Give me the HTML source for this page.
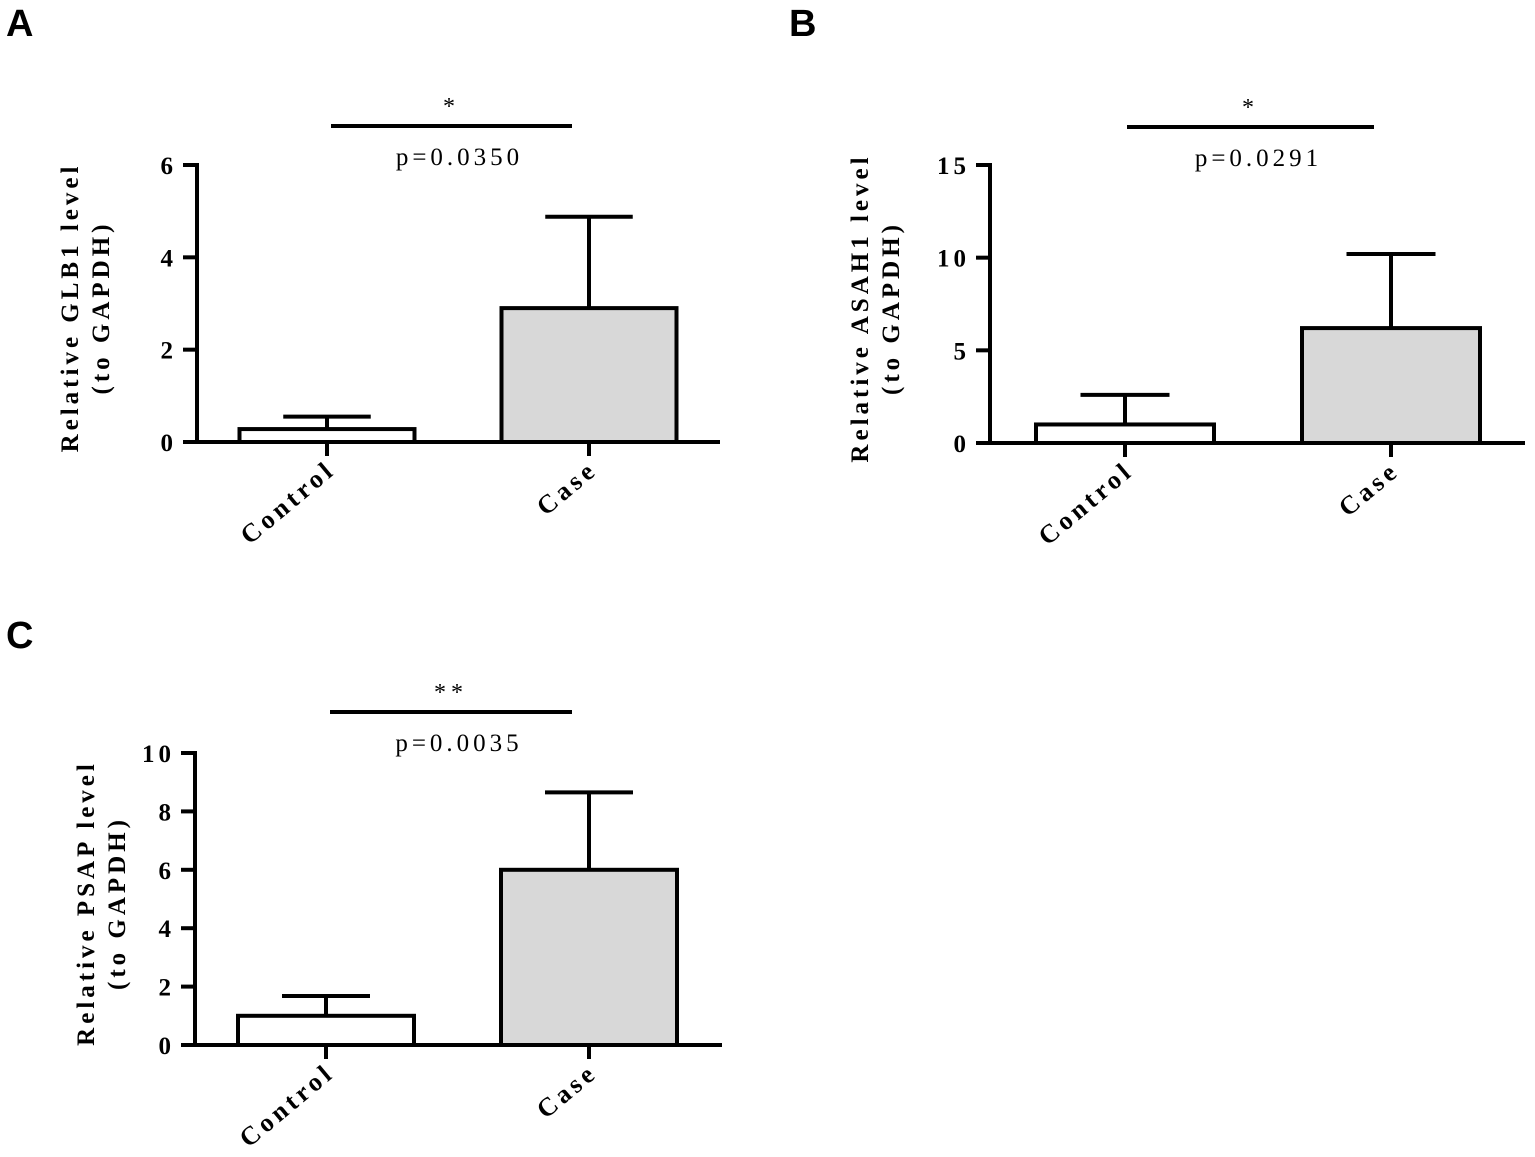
<!DOCTYPE html>
<html><head><meta charset="utf-8"><style>
body{margin:0;background:#fff;}
svg{display:block;}
text{font-family:"Liberation Serif",serif;}
.lbl{font-family:"Liberation Sans",sans-serif;font-weight:bold;font-size:38px;}
</style></head><body>
<svg id="fig" width="1535" height="1157" viewBox="0 0 1535 1157"></svg>
<script>
const categories = ["Control", "Case"];
const glb1Means = [0.28, 2.9];
const glb1Errs = [0.27, 1.98];
const asah1Means = [1.0, 6.2];
const asah1Errs = [1.6, 4.0];
const psapMeans = [1.0, 6.0];
const psapErrs = [0.68, 2.65];
const glb1Ticks = [0, 2, 4, 6];
const asah1Ticks = [0, 5, 10, 15];
const psapTicks = [0, 2, 4, 6, 8, 10];
const pTexts = ["p=0.0350", "p=0.0291", "p=0.0035"];
const stars = ["*", "*", "**"];
const genes = ["GLB1", "ASAH1", "PSAP"];

const NS = "http://www.w3.org/2000/svg";
const svg = document.getElementById("fig");
function mk(tag, attrs, parent, txt) {
  const e = document.createElementNS(NS, tag);
  for (const k in attrs) e.setAttribute(k, attrs[k]);
  if (txt !== undefined) e.textContent = txt;
  (parent || svg).appendChild(e);
  return e;
}

function panel(p) {
  const g = mk("g", {});
  
  
  const L = mk("text", {x: p.lx, y: p.ly, class: "lbl"}, g, p.letter);
  
  
  const ymax = p.ticks[p.ticks.length - 1];
  const y = v => p.y0 - (v / ymax) * (p.y0 - p.y1);
  const sw = 4;
  const ax = mk("line", {x1: p.ax, y1: p.y1 - 2, x2: p.ax, y2: p.y0 + 2, stroke: "#000", "stroke-width": sw}, g);
  
  
  p.ticks.forEach(t => {
    mk("line", {x1: p.ax - 14, y1: y(t), x2: p.ax, y2: y(t), stroke: "#000", "stroke-width": sw}, g);
    const tl = mk("text", {x: p.ax - 20, y: y(t) + 9, "text-anchor": "end", "font-size": 25, "font-weight": "bold", "letter-spacing": "4"}, g, String(t));
    
    
  });
  const xa = mk("line", {x1: p.ax - 2, y1: p.y0, x2: p.xend, y2: p.y0, stroke: "#000", "stroke-width": sw}, g);
  
  
  const means = p.means, errs = p.errs;
  categories.forEach((c, i) => {
    const cx = p.centers[i];
    const bw = p.bw;
    mk("line", {x1: cx, y1: p.y0, x2: cx, y2: p.y0 + 14, stroke: "#000", "stroke-width": sw}, g);
    const et = y(means[i] + errs[i]);
    mk("line", {x1: cx, y1: y(means[i]), x2: cx, y2: et, stroke: "#000", "stroke-width": sw}, g);
    mk("line", {x1: cx - bw / 4, y1: et, x2: cx + bw / 4, y2: et, stroke: "#000", "stroke-width": sw}, g);
    const b = mk("rect", {x: cx - bw / 2, y: y(means[i]), width: bw, height: p.y0 - y(means[i]), fill: i === 0 ? "#fff" : "#d8d8d8", stroke: "#000", "stroke-width": sw}, g);
    
    
    const tx = cx + 10, ty = p.y0 + 30;
    const xl = mk("text", {x: tx, y: ty, "text-anchor": "end", "font-size": 26, "font-weight": "bold", "letter-spacing": "4", transform: `rotate(-40 ${tx} ${ty})`}, g, c);
    
    
  });
  const sl = mk("line", {x1: p.sx1, y1: p.sy, x2: p.sx2, y2: p.sy, stroke: "#000", "stroke-width": sw}, g);
  
  
  const mid = (p.sx1 + p.sx2) / 2;
  const st = mk("text", {x: mid, y: p.sy - 12, "text-anchor": "middle", "font-size": 24, "letter-spacing": "5"}, g, p.star);
  
  
  const pt = mk("text", {x: mid + 8, y: p.sy + 39, "text-anchor": "middle", "font-size": 25, "letter-spacing": "4"}, g, p.ptext);
  
  
  const cy = (p.y0 + p.y1) / 2 + 4;
  const t1 = mk("text", {x: p.tx, y: cy, "text-anchor": "middle", "font-size": 25, "font-weight": "bold", "letter-spacing": "4", transform: `rotate(-90 ${p.tx} ${cy})`}, g, "Relative " + p.gene + " level");
  
  
  const t2 = mk("text", {x: p.tx + 31, y: cy, "text-anchor": "middle", "font-size": 25, "font-weight": "bold", "letter-spacing": "4", transform: `rotate(-90 ${p.tx + 31} ${cy})`}, g, "(to GAPDH)");
  
  
}

panel({letter: "A", lx: 6, ly: 36, ax: 197, y0: 442, y1: 165, xend: 720, ticks: glb1Ticks, means: glb1Means, errs: glb1Errs,
  centers: [327, 589], bw: 175, sx1: 331, sx2: 572, sy: 126, star: stars[0], ptext: pTexts[0], gene: genes[0], tx: 78});
panel({letter: "B", lx: 789, ly: 36, ax: 990, y0: 443, y1: 165, xend: 1525, ticks: asah1Ticks, means: asah1Means, errs: asah1Errs,
  centers: [1125, 1391], bw: 178, sx1: 1127, sx2: 1374, sy: 127, star: stars[1], ptext: pTexts[1], gene: genes[1], tx: 868});
panel({letter: "C", lx: 6, ly: 648, ax: 195, y0: 1045, y1: 753, xend: 722, ticks: psapTicks, means: psapMeans, errs: psapErrs,
  centers: [326, 589], bw: 176, sx1: 330, sx2: 572, sy: 712, star: stars[2], ptext: pTexts[2], gene: genes[2], tx: 94});
</script>
</body></html>
